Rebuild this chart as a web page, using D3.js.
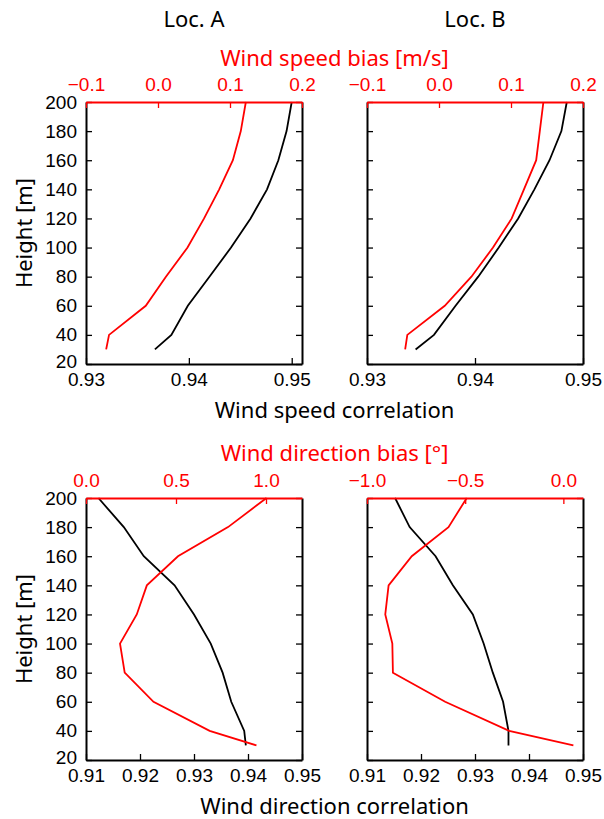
<!DOCTYPE html>
<head>
  <title>Wind speed and direction: Loc. A / Loc. B</title>
  <meta charset="utf-8">
  <script type="text/javascript" src="https://cdn.jsdelivr.net/npm/d3@7/dist/d3.min.js"></script>
  <style>
    body { margin: 0; background: #fff; }
    .tick text { font-family: "Liberation Sans", Arial, sans-serif; font-size: 19px; }
    .lab { font-family: "Noto Sans", sans-serif; font-size: 22px; }
  </style>
</head>

<body>

<div id="container"></div>

<script>

  // heights of the measurement levels
  const heights = [30, 40, 60, 80, 100, 120, 140, 160, 180, 200];

  // wind speed
  const speedCorrA = [0.9367, 0.9383, 0.9399, 0.9420, 0.9441, 0.9460, 0.9476, 0.9487, 0.9495, 0.9500];
  const speedBiasA = [-0.072, -0.068, -0.017, 0.011, 0.041, 0.064, 0.085, 0.104, 0.115, 0.122];
  const speedCorrB = [0.9345, 0.9362, 0.9382, 0.9403, 0.9422, 0.9440, 0.9455, 0.9469, 0.9480, 0.9485];
  const speedBiasB = [-0.047, -0.044, 0.008, 0.045, 0.075, 0.101, 0.118, 0.135, 0.140, 0.145];

  // wind direction
  const dirCorrA = [0.9396, 0.9393, 0.9369, 0.9353, 0.9331, 0.9300, 0.9264, 0.9207, 0.9170, 0.9123];
  const dirBiasA = [0.947, 0.687, 0.375, 0.215, 0.189, 0.282, 0.338, 0.511, 0.789, 1.003];
  const dirCorrB = [0.9362, 0.9362, 0.9352, 0.9333, 0.9316, 0.9296, 0.9259, 0.9227, 0.9179, 0.9152];
  const dirBiasB = [0.051, -0.276, -0.602, -0.868, -0.871, -0.907, -0.890, -0.772, -0.585, -0.492];

  // tick values
  const heightTicks = [20, 40, 60, 80, 100, 120, 140, 160, 180, 200];
  const speedCorrTicks = [0.93, 0.94, 0.95];
  const speedBiasTicks = [-0.1, 0.0, 0.1, 0.2];
  const dirCorrTicks = [0.91, 0.92, 0.93, 0.94, 0.95];
  const dirBiasTicksA = [0.0, 0.5, 1.0];
  const dirBiasTicksB = [-1.0, -0.5, 0.0];

  // layout
  const svgWidth = 604;
  const svgHeight = 819;
  const colX = [86, 367];
  const rowY = [102, 498];
  const panelW = 216;
  const panelH = 262;
  const tickLen = 6;
  const red = '#ff0000';

  const panels = [
    {col: 0, row: 0, corr: speedCorrA, bias: speedBiasA, corrDom: [0.93, 0.951], biasDom: [-0.1, 0.2],
     corrTicks: speedCorrTicks, biasTicks: speedBiasTicks, labels: true},
    {col: 1, row: 0, corr: speedCorrB, bias: speedBiasB, corrDom: [0.93, 0.95], biasDom: [-0.1, 0.2],
     corrTicks: speedCorrTicks, biasTicks: speedBiasTicks, labels: false},
    {col: 0, row: 1, corr: dirCorrA, bias: dirBiasA, corrDom: [0.91, 0.95], biasDom: [0, 1.2],
     corrTicks: dirCorrTicks, biasTicks: dirBiasTicksA, labels: true},
    {col: 1, row: 1, corr: dirCorrB, bias: dirBiasB, corrDom: [0.91, 0.95], biasDom: [-1.0, 0.1],
     corrTicks: dirCorrTicks, biasTicks: dirBiasTicksB, labels: false}
  ];

  const svg = d3.select('div#container').append('svg')
    .attr('width', svgWidth)
    .attr('height', svgHeight);

  const yScale = d3.scaleLinear()
    .domain([20, 200])
    .range([panelH, 0]);

  panels.forEach(p => {
    const g = svg.append('g')
      .attr('transform', `translate(${colX[p.col]},${rowY[p.row]})`);

    const xCorr = d3.scaleLinear().domain(p.corrDom).range([0, panelW]);
    const xBias = d3.scaleLinear().domain(p.biasDom).range([0, panelW]);

    const corrLine = d3.line()
      .x((d, i) => xCorr(d))
      .y((d, i) => yScale(heights[i]));
    const biasLine = d3.line()
      .x((d, i) => xBias(d))
      .y((d, i) => yScale(heights[i]));

    g.append('path')
      .attr('d', corrLine(p.corr))
      .style('fill', 'none')
      .style('stroke', '#000')
      .style('stroke-width', 1.8);

    g.append('path')
      .attr('d', biasLine(p.bias))
      .style('fill', 'none')
      .style('stroke', red)
      .style('stroke-width', 1.8);

    // bottom axis, ticks pointing in
    const bottom = g.append('g')
      .attr('transform', `translate(0,${panelH})`)
      .call(d3.axisBottom(xCorr).tickValues(p.corrTicks).tickFormat(d3.format('.2f'))
        .tickSizeInner(-tickLen).tickSizeOuter(0).tickPadding(9));

    // left axis
    const left = g.append('g')
      .call(d3.axisLeft(yScale).tickValues(heightTicks)
        .tickSizeInner(-tickLen).tickSizeOuter(0).tickPadding(9)
        .tickFormat(p.labels ? d3.format('d') : ''));

    // nudge the lowest height label up a bit so it clears the x labels
    left.selectAll('.tick text').filter(d => d === 20).attr('dy', '0.2em');

    // right axis, marks only
    const right = g.append('g')
      .attr('transform', `translate(${panelW},0)`)
      .call(d3.axisRight(yScale).tickValues(heightTicks)
        .tickSizeInner(-tickLen).tickSizeOuter(0).tickFormat(''));

    // top axis in red for the bias
    const top = g.append('g')
      .call(d3.axisTop(xBias).tickValues(p.biasTicks).tickFormat(d3.format('.1f'))
        .tickSizeInner(-tickLen).tickSizeOuter(0).tickPadding(11));

    [bottom, left, right].forEach(ax => {
      ax.select('.domain').style('stroke', '#000').style('stroke-width', 2);
      ax.selectAll('.tick line').style('stroke', '#000').style('stroke-width', 1.3);
      ax.selectAll('.tick text').style('fill', '#000');
    });
    top.select('.domain').style('stroke', red).style('stroke-width', 2);
    top.selectAll('.tick line').style('stroke', red).style('stroke-width', 1.3);
    top.selectAll('.tick text').style('fill', red);
    top.selectAll('.tick').filter(d => xBias(d) > panelW + 0.5).select('line').remove();

    // left border drawn on top of the red top line corner
    left.select('.domain').raise();
  });

  // titles and axis labels
  const midX = (colX[0] + colX[1] + panelW) / 2;
  const labels = [
    {text: 'Loc. A', x: colX[0] + panelW / 2, y: 27, color: '#000'},
    {text: 'Loc. B', x: colX[1] + panelW / 2, y: 27, color: '#000'},
    {text: 'Wind speed bias [m/s]', x: midX, y: 66, color: red},
    {text: 'Wind speed correlation', x: midX, y: 418, color: '#000'},
    {text: 'Wind direction bias [°]', x: midX, y: 461, color: red},
    {text: 'Wind direction correlation', x: midX, y: 814, color: '#000'}
  ];

  svg.selectAll('.title-lab')
    .data(labels)
    .enter()
    .append('text')
      .attr('class', 'lab')
      .attr('x', d => d.x)
      .attr('y', d => d.y)
      .style('text-anchor', 'middle')
      .style('fill', d => d.color)
      .text(d => d.text);

  rowY.forEach(y0 => {
    svg.append('text')
      .attr('class', 'lab')
      .attr('transform', `translate(32,${y0 + panelH / 2}) rotate(-90)`)
      .style('text-anchor', 'middle')
      .style('fill', '#000')
      .text('Height [m]');
  });

</script>

</body>
